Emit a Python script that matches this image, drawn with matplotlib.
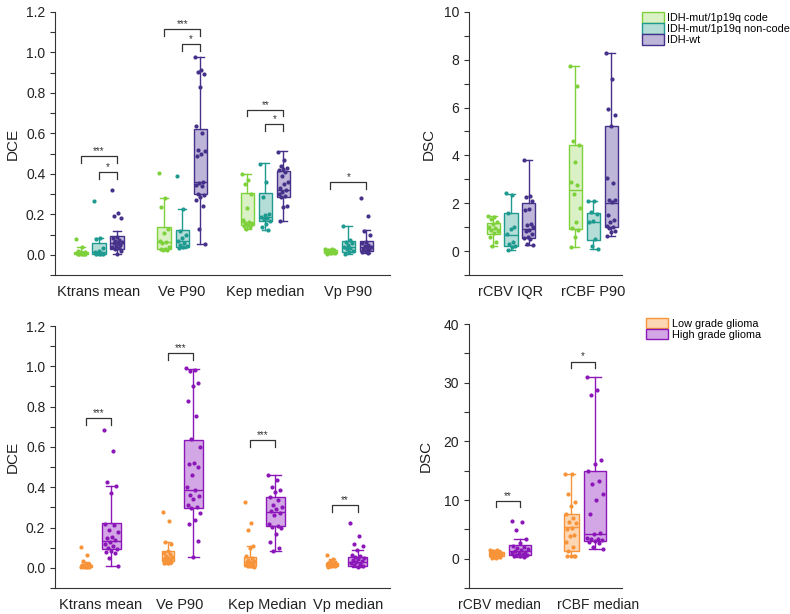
import numpy as np
import matplotlib
matplotlib.use('Agg')
import matplotlib.pyplot as plt
from matplotlib.patches import Patch
from matplotlib.ticker import MultipleLocator

plt.rcParams['font.family'] = ['Liberation Sans', 'DejaVu Sans']

# ---------------- data: IDH subtypes ----------------
DCE_FEATURES_A = ['Ktrans mean', 'Ve P90', 'Kep median', 'Vp P90']
DSC_FEATURES_A = ['rCBV IQR', 'rCBF P90']
IDH_GROUPS = ['IDH-mut/1p19q code', 'IDH-mut/1p19q non-code', 'IDH-wt']

# points per feature, per group
dce_a_code = [
    [0.077, 0.04, 0.02, 0.015, 0.012, 0.01, 0.008, 0.006, 0.005, 0.004, 0.003, 0.002],
    [0.405, 0.28, 0.235, 0.13, 0.11, 0.07, 0.065, 0.06, 0.04, 0.03, 0.028, 0.025, 0.025],
    [0.4, 0.37, 0.35, 0.3, 0.23, 0.17, 0.16, 0.155, 0.15, 0.145, 0.14, 0.135, 0.13],
    [0.03, 0.028, 0.025, 0.022, 0.02, 0.018, 0.015, 0.012, 0.01, 0.008, 0.006],
]
dce_a_noncode = [
    [0.265, 0.082, 0.08, 0.035, 0.02, 0.012, 0.01, 0.008, 0.005, 0.003, 0.002],
    [0.387, 0.225, 0.12, 0.1, 0.085, 0.07, 0.06, 0.05, 0.045, 0.04, 0.035],
    [0.45, 0.36, 0.285, 0.2, 0.195, 0.185, 0.18, 0.175, 0.165, 0.15, 0.135, 0.125],
    [0.14, 0.075, 0.065, 0.06, 0.05, 0.04, 0.035, 0.03, 0.02, 0.015, 0.005],
]
dce_a_wt = [
    [0.32, 0.205, 0.19, 0.18, 0.09, 0.085, 0.075, 0.07, 0.065, 0.06, 0.058, 0.05,
     0.045, 0.04, 0.035, 0.03, 0.02, 0.005],
    [0.975, 0.915, 0.905, 0.895, 0.83, 0.635, 0.6, 0.52, 0.515, 0.5, 0.49, 0.36,
     0.355, 0.345, 0.34, 0.3, 0.295, 0.285, 0.27, 0.24, 0.13, 0.052],
    [0.51, 0.47, 0.44, 0.43, 0.425, 0.42, 0.41, 0.39, 0.36, 0.35, 0.33, 0.32, 0.31,
     0.3, 0.29, 0.285, 0.24, 0.235, 0.165],
    [0.28, 0.19, 0.12, 0.1, 0.065, 0.06, 0.05, 0.045, 0.04, 0.035, 0.03, 0.025,
     0.02, 0.015, 0.01],
]
# box stats: (q1, median, q3, whisker low, whisker high)
dce_a_code_box = [(0.003, 0.007, 0.014, 0.0, 0.04), (0.027, 0.065, 0.135, 0.022, 0.28),
                  (0.145, 0.162, 0.305, 0.13, 0.4), (0.008, 0.015, 0.025, 0.003, 0.03)]
dce_a_noncode_box = [(0.004, 0.012, 0.057, 0.0, 0.085), (0.04, 0.067, 0.125, 0.035, 0.225),
                     (0.165, 0.186, 0.304, 0.125, 0.452), (0.015, 0.041, 0.07, 0.003, 0.14)]
dce_a_wt_box = [(0.03, 0.06, 0.093, 0.005, 0.12), (0.3, 0.362, 0.622, 0.052, 0.978),
                (0.285, 0.321, 0.416, 0.165, 0.515), (0.02, 0.04, 0.068, 0.01, 0.123)]

dsc_a_code = [
    [1.48, 1.42, 1.35, 1.2, 1.15, 1.0, 0.95, 0.9, 0.85, 0.75, 0.6, 0.4, 0.2],
    [7.72, 6.9, 4.6, 4.45, 3.72, 2.9, 2.75, 2.4, 1.8, 1.2, 0.95, 0.9, 0.6, 0.18],
]
dsc_a_noncode = [
    [2.42, 2.35, 1.6, 1.0, 0.92, 0.7, 0.4, 0.3, 0.2, 0.18, 0.05],
    [2.1, 2.08, 1.62, 1.55, 1.25, 1.2, 0.5, 0.22, 0.08],
]
dsc_a_wt = [
    [3.8, 2.3, 2.25, 2.1, 1.75, 1.7, 1.15, 1.1, 1.0, 0.9, 0.85, 0.7, 0.6, 0.55,
     0.5, 0.3, 0.25],
    [8.28, 7.2, 5.95, 5.7, 5.25, 3.05, 2.85, 2.15, 2.12, 2.05, 1.5, 1.3, 1.2, 1.05,
     1.0, 0.95, 0.85, 0.8, 0.65],
]
dsc_a_code_box = [(0.71, 0.94, 1.18, 0.2, 1.48), (0.94, 2.54, 4.44, 0.18, 7.74)]
dsc_a_noncode_box = [(0.21, 0.68, 1.6, 0.05, 2.39), (0.48, 1.22, 1.6, 0.08, 2.1)]
dsc_a_wt_box = [(0.54, 0.92, 2.0, 0.25, 3.8), (0.99, 2.03, 5.24, 0.65, 8.28)]

# significance: (feature, group i, group j, height, stars)
dce_a_sig = [(0, 0, 2, 0.486, '***'), (0, 1, 2, 0.409, '*'),
             (1, 0, 2, 1.113, '***'), (1, 1, 2, 1.042, '*'),
             (2, 0, 2, 0.717, '**'), (2, 1, 2, 0.646, '*'),
             (3, 0, 2, 0.359, '*')]

# ---------------- data: glioma grade ----------------
DCE_FEATURES_B = ['Ktrans mean', 'Ve P90', 'Kep Median', 'Vp median']
DSC_FEATURES_B = ['rCBV median', 'rCBF median']
GRADE_GROUPS = ['Low grade glioma', 'High grade glioma']

dce_b_low = [
    [0.104, 0.063, 0.032, 0.02, 0.018, 0.015, 0.013, 0.012, 0.01, 0.01, 0.009,
     0.008, 0.007, 0.006, 0.005, 0.005, 0.004, 0.003],
    [0.275, 0.235, 0.13, 0.12, 0.085, 0.075, 0.07, 0.06, 0.055, 0.05, 0.048, 0.045,
     0.04, 0.038, 0.035, 0.03, 0.03, 0.025, 0.022],
    [0.325, 0.225, 0.188, 0.11, 0.1, 0.06, 0.05, 0.04, 0.035, 0.03, 0.028, 0.02,
     0.015, 0.012, 0.01, 0.008, 0.005],
    [0.065, 0.045, 0.035, 0.03, 0.025, 0.022, 0.02, 0.018, 0.015, 0.012, 0.01,
     0.008, 0.007, 0.005],
]
dce_b_high = [
    [0.685, 0.58, 0.425, 0.405, 0.37, 0.22, 0.215, 0.19, 0.18, 0.155, 0.15, 0.14,
     0.13, 0.12, 0.11, 0.1, 0.095, 0.085, 0.08, 0.075, 0.05, 0.01],
    [0.99, 0.98, 0.975, 0.915, 0.9, 0.83, 0.755, 0.64, 0.6, 0.52, 0.515, 0.5, 0.46,
     0.4, 0.385, 0.36, 0.355, 0.34, 0.31, 0.3, 0.295, 0.27, 0.24, 0.22, 0.135, 0.052],
    [0.46, 0.435, 0.4, 0.385, 0.375, 0.35, 0.335, 0.31, 0.3, 0.29, 0.28, 0.27, 0.26,
     0.22, 0.21, 0.205, 0.2, 0.17, 0.13, 0.1, 0.085],
    [0.225, 0.16, 0.118, 0.11, 0.09, 0.065, 0.06, 0.055, 0.05, 0.045, 0.04, 0.035,
     0.03, 0.025, 0.02, 0.015, 0.01, 0.005],
]
dce_b_low_box = [(0.005, 0.009, 0.014, 0.002, 0.03), (0.033, 0.05, 0.086, 0.02, 0.129),
                 (0.01, 0.03, 0.054, 0.005, 0.11), (0.007, 0.015, 0.025, 0.004, 0.045)]
dce_b_high_box = [(0.094, 0.135, 0.221, 0.01, 0.404), (0.297, 0.385, 0.636, 0.053, 0.989),
                  (0.206, 0.277, 0.35, 0.086, 0.459), (0.01, 0.03, 0.054, 0.005, 0.091)]

dsc_b_low = [
    [1.5, 1.4, 1.3, 1.2, 1.1, 1.0, 0.95, 0.9, 0.85, 0.8, 0.7, 0.6, 0.5, 0.45, 0.4,
     0.35, 0.3, 0.2, 0.1],
    [14.5, 14.4, 11.0, 9.6, 9.0, 7.6, 7.0, 6.2, 6.0, 5.3, 5.0, 4.0, 3.9, 2.9, 2.0,
     1.3, 0.5, 0.45, 0.4, 0.4],
]
dsc_b_high = [
    [6.35, 6.2, 4.9, 3.3, 2.7, 2.2, 2.0, 1.9, 1.7, 1.5, 1.3, 1.1, 1.0, 0.9, 0.8,
     0.7, 0.6, 0.5, 0.4, 0.3],
    [31.0, 28.8, 27.9, 16.8, 16.1, 14.9, 13.2, 12.8, 11.0, 10.0, 7.6, 4.3, 4.2, 3.6,
     3.4, 3.3, 3.2, 3.0, 2.9, 2.6, 2.0, 1.6],
]
dsc_b_low_box = [(0.4, 0.75, 1.1, 0.1, 1.5), (1.36, 5.33, 7.7, 0.4, 14.5)]
dsc_b_high_box = [(0.57, 1.3, 2.27, 0.3, 3.29), (3.06, 4.25, 14.96, 1.59, 31.05)]

dce_b_sig = [(0, 0, 1, 0.743, '***'), (1, 0, 1, 1.068, '***'),
             (2, 0, 1, 0.636, '***'), (3, 0, 1, 0.314, '**')]
dsc_b_sig = [(0, 0, 1, 9.9, '**'), (1, 0, 1, 33.6, '*')]

# ---------------- styles ----------------
IDH_EDGE = ['#7fd13b', '#1e9a90', '#45308a']
IDH_FACE = ['#d9f1c4', '#b5ddd8', '#bdb6d8']
GRADE_EDGE = ['#f7943a', '#8c17b9']
GRADE_FACE = ['#fdd6b3', '#d3a7e5']
AXIS_COL = '#333333'


def draw_panel(ax, features, pts, boxes, edges, faces, offsets, widths,
               xlim, ylim, major, minor, ylabel, sig=(), drop=0.03,
               label_pos=None):
    centers = np.arange(len(features))
    for g, (gpts, gbox) in enumerate(zip(pts, boxes)):
        pos = centers + offsets[g]
        stats = [dict(q1=b[0], med=b[1], q3=b[2], whislo=b[3], whishi=b[4],
                      fliers=[]) for b in gbox]
        ax.bxp(stats, positions=pos, widths=widths[g], capwidths=widths[g] * 0.55,
               patch_artist=True, showfliers=False, manage_ticks=False,
               boxprops=dict(facecolor=faces[g], edgecolor=edges[g], linewidth=1.0),
               medianprops=dict(color=edges[g], linewidth=1.0),
               whiskerprops=dict(color=edges[g], linewidth=1.0),
               capprops=dict(color=edges[g], linewidth=1.0), zorder=2)
        for p, vals in zip(pos, gpts):
            n = len(vals)
            jit = ((np.arange(n) * 0.618) % 1 - 0.5) * widths[g] * 0.75
            ax.scatter(p + jit, vals, s=9, color=edges[g], zorder=3, linewidths=0)

    for f, i, j, h, stars in sig:
        x1, x2 = centers[f] + offsets[i], centers[f] + offsets[j]
        ax.plot([x1, x1, x2, x2], [h - drop, h, h, h - drop],
                color=AXIS_COL, linewidth=0.9)
        ax.text((x1 + x2) / 2, h, stars, ha='center', va='bottom',
                fontsize=7, color=AXIS_COL)

    ax.set_xlim(*xlim)
    ax.set_ylim(*ylim)
    ax.set_xticks(centers if label_pos is None else label_pos)
    ax.set_xticklabels(features, fontsize=10.5)
    ax.tick_params(axis='x', length=0, pad=7, colors='#222222')
    ax.yaxis.set_major_locator(MultipleLocator(major))
    ax.yaxis.set_minor_locator(MultipleLocator(minor))
    ax.tick_params(axis='y', which='both', direction='out', length=3.5,
                   width=0.8, color=AXIS_COL, labelsize=10, labelcolor='#222222')
    ax.spines['top'].set_visible(False)
    ax.spines['right'].set_visible(False)
    ax.spines['left'].set_color(AXIS_COL)
    ax.spines['bottom'].set_color(AXIS_COL)
    ax.set_ylabel(ylabel, fontsize=11, color='#222222')


fig = plt.figure(figsize=(7.9, 6.14), dpi=100)
ax1 = fig.add_axes([0.0696, 0.552, 0.424, 0.4287])
ax2 = fig.add_axes([0.5937, 0.552, 0.1937, 0.4287])
ax3 = fig.add_axes([0.0696, 0.0423, 0.424, 0.4267])
ax4 = fig.add_axes([0.5937, 0.0423, 0.1937, 0.4300])

off3 = [-0.217, 0.0, 0.217]
w3 = [0.16, 0.16, 0.16]
draw_panel(ax1, DCE_FEATURES_A, [dce_a_code, dce_a_noncode, dce_a_wt],
           [dce_a_code_box, dce_a_noncode_box, dce_a_wt_box],
           IDH_EDGE, IDH_FACE, off3, w3, (-0.53, 3.5), (-0.1, 1.2),
           0.2, 0.1, 'DCE', dce_a_sig, drop=0.033)
draw_panel(ax2, DSC_FEATURES_A, [dsc_a_code, dsc_a_noncode, dsc_a_wt],
           [dsc_a_code_box, dsc_a_noncode_box, dsc_a_wt_box],
           IDH_EDGE, IDH_FACE, off3, w3, (-0.51, 1.35), (-1, 10),
           2, 1, 'DSC')

off2 = [-0.155, 0.155]
w2 = [0.15, 0.23]
draw_panel(ax3, DCE_FEATURES_B, [dce_b_low, dce_b_high],
           [dce_b_low_box, dce_b_high_box],
           GRADE_EDGE, GRADE_FACE, off2, w2, (-0.53, 3.55), (-0.1, 1.2),
           0.2, 0.1, 'DCE', dce_b_sig, drop=0.036,
           label_pos=[0.02, 0.99, 2.05, 3.04])
draw_panel(ax4, DSC_FEATURES_B, [dsc_b_low, dsc_b_high],
           [dsc_b_low_box, dsc_b_high_box],
           GRADE_EDGE, GRADE_FACE, [-0.16, 0.16], [0.2, 0.3], (-0.52, 1.52),
           (-5, 40), 10, 5, 'DSC', dsc_b_sig, drop=1.1,
           label_pos=[-0.12, 1.2])
ax4.tick_params(axis='x', labelsize=10)

ax1.yaxis.set_label_coords(-0.105, 0.5)
ax3.yaxis.set_label_coords(-0.105, 0.5)
ax2.yaxis.set_label_coords(-0.22, 0.5)
ax4.yaxis.set_label_coords(-0.24, 0.5)

h1 = [Patch(facecolor=f, edgecolor=e, linewidth=1.0) for f, e in zip(IDH_FACE, IDH_EDGE)]
fig.legend(h1, IDH_GROUPS, loc='upper left', bbox_to_anchor=(0.813, 0.980),
           frameon=False, fontsize=7.8, handlelength=2.0, handleheight=1.15,
           handletextpad=0.25, labelspacing=0.0, borderaxespad=0, borderpad=0)
h2 = [Patch(facecolor=f, edgecolor=e, linewidth=1.0) for f, e in zip(GRADE_FACE, GRADE_EDGE)]
fig.legend(h2, GRADE_GROUPS, loc='upper left', bbox_to_anchor=(0.818, 0.482),
           frameon=False, fontsize=7.8, handlelength=2.0, handleheight=1.1,
           handletextpad=0.35, labelspacing=0.0, borderaxespad=0, borderpad=0)

fig.savefig('out.png', dpi=100)
plt.close(fig)
